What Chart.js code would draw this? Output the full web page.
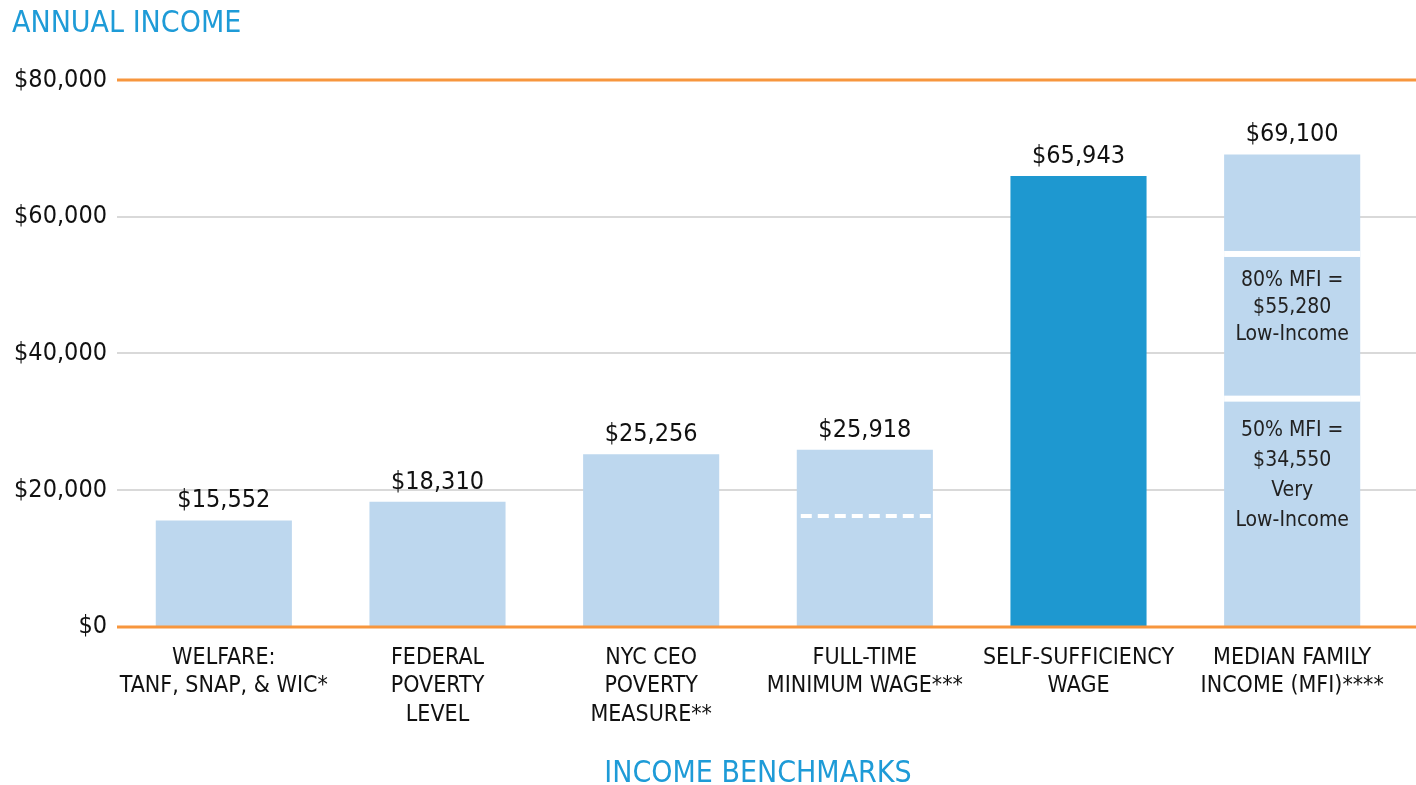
<!DOCTYPE html>
<html>
<head>
<meta charset="utf-8">
<script src="https://cdn.jsdelivr.net/npm/chart.js@4/dist/chart.umd.min.js"></script>
<style>
  html, body { margin: 0; padding: 0; background: #fff; }
  #wrap { width: 1416px; height: 785px; }
</style>
</head>
<body>
<div id="wrap"><canvas id="myChart"></canvas></div>
<script>
// dados do grafico
var categorias = [
  ["WELFARE:", "TANF, SNAP, & WIC*"],
  ["FEDERAL", "POVERTY", "LEVEL"],
  ["NYC CEO", "POVERTY", "MEASURE**"],
  ["FULL-TIME", "MINIMUM WAGE***"],
  ["SELF-SUFFICIENCY", "WAGE"],
  ["MEDIAN FAMILY", "INCOME (MFI)****"]
];
var valores = [15552, 18310, 25256, 25918, 65943, 69100];
var cores = ["#bdd7ee", "#bdd7ee", "#bdd7ee", "#bdd7ee", "#1e98d0", "#bdd7ee"];
var yTicks = [0, 20000, 40000, 60000, 80000];

// linha tracejada dentro do salario minimo (indice 3)
var linhaMinimo = 16200;
// faixas da renda mediana (indice 5)
var faixasMfi = [55280, 34550];
var textosMfi = [
  ["80% MFI =", "$55,280", "Low-Income"],
  ["50% MFI =", "$34,550", "Very", "Low-Income"]
];

var fonte = "'DejaVu Sans Condensed', 'DejaVu Sans', sans-serif";

function dinheiro(v) {
  return "$" + v.toLocaleString("en-US");
}

var linhasPlugin = {
  id: "linhas",
  beforeDatasetsDraw: function (chart) {
    var c = chart.ctx;
    var y = chart.scales.y;
    c.save();
    yTicks.forEach(function (t) {
      if (t == 0 || t == 80000) return;
      var py = Math.round(y.getPixelForValue(t));
      c.strokeStyle = "#d9d9d9";
      c.lineWidth = 2;
      c.beginPath();
      c.moveTo(chart.chartArea.left, py);
      c.lineTo(chart.width, py);
      c.stroke();
    });
    c.restore();
  },
  afterDatasetsDraw: function (chart) {
    var c = chart.ctx;
    var y = chart.scales.y;
    var meta = chart.getDatasetMeta(0);
    c.save();

    // linhas laranja em 0 e 80.000
    [0, 80000].forEach(function (t) {
      var py = Math.round(y.getPixelForValue(t));
      c.strokeStyle = "#f7963d";
      c.lineWidth = 3;
      c.beginPath();
      c.moveTo(chart.chartArea.left, py);
      c.lineTo(chart.width, py);
      c.stroke();
    });

    // rotulos de valor
    c.fillStyle = "#111";
    c.font = "25px " + fonte;
    c.textAlign = "center";
    c.textBaseline = "alphabetic";
    meta.data.forEach(function (bar, i) {
      c.fillText(dinheiro(valores[i]), bar.x, bar.y - 13);
    });

    // tracejado do salario minimo
    var b = meta.data[3];
    var py = y.getPixelForValue(linhaMinimo);
    c.strokeStyle = "#ffffff";
    c.lineWidth = 4;
    c.setLineDash([11, 6]);
    c.beginPath();
    c.moveTo(b.x - b.width / 2 + 4, py);
    c.lineTo(b.x + b.width / 2, py);
    c.stroke();
    c.setLineDash([]);

    // faixas da renda mediana
    var m = meta.data[5];
    var passo = [27, 30];
    var desloc = [2, 5];
    var texto = [30, 35];
    faixasMfi.forEach(function (v, k) {
      var top = y.getPixelForValue(v) + desloc[k];
      c.fillStyle = "#ffffff";
      c.fillRect(m.x - m.width / 2, top, m.width, 6);
      c.fillStyle = "#222";
      c.font = "21px " + fonte;
      c.textBaseline = "middle";
      textosMfi[k].forEach(function (linha, j) {
        c.fillText(linha, m.x, top + texto[k] + j * passo[k]);
      });
    });
    c.restore();
  }
};

var ctx = document.getElementById("myChart");
var myChart = new Chart(ctx, {
  type: "bar",
  data: {
    labels: categorias,
    datasets: [
      {
        data: valores,
        backgroundColor: cores,
        barPercentage: 0.637,
        categoryPercentage: 1
      }
    ]
  },
  options: {
    responsive: true,
    maintainAspectRatio: false,
    animation: false,
    layout: { padding: { left: 12, right: 17, top: 0, bottom: -7 } },
    plugins: {
      legend: { display: false },
      tooltip: { enabled: false },
      title: {
        display: true,
        text: "ANNUAL INCOME",
        align: "start",
        color: "#1e9bd7",
        font: { family: fonte, size: 30, weight: "normal" },
        padding: { top: 6, bottom: 38 }
      }
    },
    scales: {
      y: {
        min: 0,
        max: 80000,
        afterBuildTicks: function (axis) {
          axis.ticks = yTicks.map(function (v) { return { value: v }; });
        },
        afterFit: function (axis) {
          axis.width = 105;
        },
        grid: { display: false, drawTicks: false },
        border: { display: false },
        ticks: {
          padding: 10,
          color: "#111",
          font: { family: fonte, size: 25 },
          callback: function (v) { return dinheiro(v); }
        }
      },
      x: {
        grid: { display: false, drawTicks: false },
        border: { display: false },
        ticks: {
          padding: 17,
          color: "#111",
          maxRotation: 0,
          autoSkip: false,
          font: { family: fonte, size: 23, lineHeight: 1.235 }
        },
        title: {
          display: true,
          text: "INCOME BENCHMARKS",
          color: "#1e9bd7",
          font: { family: fonte, size: 30, weight: "normal" },
          padding: { top: 10, bottom: 0 }
        }
      }
    }
  },
  plugins: [linhasPlugin]
});
</script>
</body>
</html>
